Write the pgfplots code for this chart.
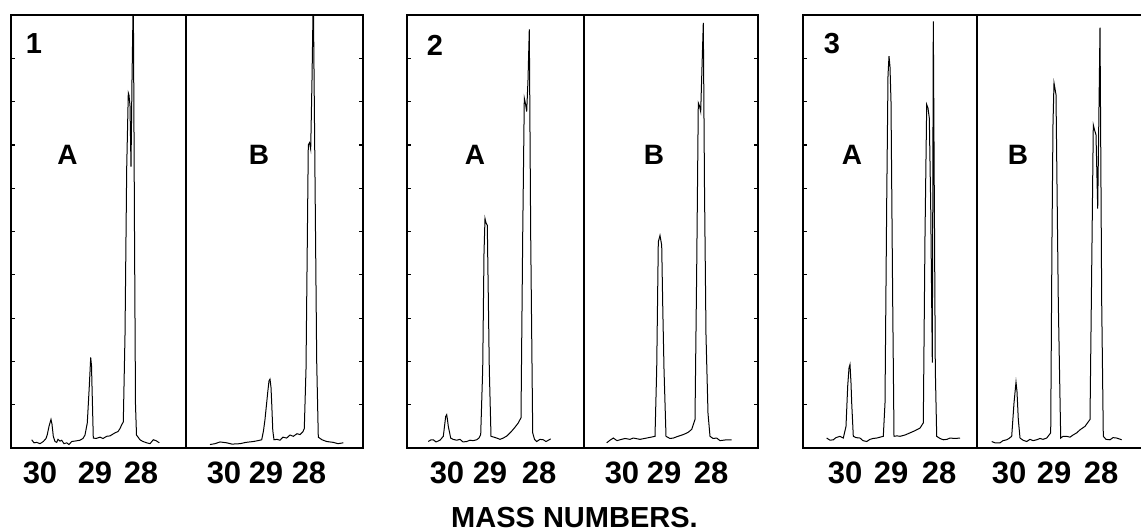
\documentclass[border=0pt]{standalone}
\usepackage{fontspec}
\setmainfont{Liberation Sans}
\usepackage{pgfplots}
\pgfplotsset{compat=1.18}
\pgfplotsset{
  grp/.style={
    scale only axis, height=216.5pt, anchor=north west,
    ymin=0, ymax=10, ytick={1,...,9}, yticklabels={},
    tick align=inside, major tick length=2pt,
    every tick/.style={black, line width=0.6pt},
    xtick style={draw=none},
    axis line style={line width=1pt},
    xticklabel style={anchor=north, inner sep=0pt, yshift=-6.5pt, font=\fontsize{15.5}{15.5}\selectfont},
    xticklabels={\textbf{30},\textbf{29},\textbf{28},\textbf{30},\textbf{29},\textbf{28}},
    clip=true,
  },
  trace/.style={black, line width=0.5pt, mark=none},
  divider/.style={black, line width=1pt, mark=none},
}
\tikzset{
  big/.style={font=\fontsize{14.5}{14.5}\selectfont\bfseries},
  mid/.style={font=\fontsize{14}{14}\selectfont\bfseries},
}
\begin{document}
\begin{tikzpicture}
\useasboundingbox (0,0) rectangle (570.5pt,-265.5pt);
\clip (0,0) rectangle (570.5pt,-265.5pt);
% ---------------- group 1
\begin{axis}[grp, at={(5.5pt,-7.5pt)}, width=176pt, xmin=11, xmax=363,
  xtick={40,95,141,224,266,309}]
\addplot[divider] coordinates {(186,0) (186,10)};
\addplot[trace] coordinates {(31.7,0.19) (34,0.12) (36.7,0.13) (40,0.1) (43.3,0.15) (46,0.22) (47.3,0.31) (49,0.5) (51,0.66) (52,0.55) (53.3,0.27) (55,0.15) (56.7,0.13) (58,0.2) (60,0.16) (61.7,0.18) (64,0.1) (66.7,0.12) (69,0.08) (71.7,0.15) (75,0.16) (80,0.18) (83,0.22) (85,0.3) (87.3,0.58) (89.3,1.43) (90.7,2.09) (91.5,1.9) (92,1.43) (93.3,0.23) (96,0.22) (100,0.25) (103,0.22) (106.7,0.27) (110,0.28) (115,0.35) (118,0.38) (120,0.45) (122,0.55) (123.3,0.6) (125,2.6) (126.7,6.46) (128.3,8.2) (129,8.15) (130,7.9) (131,6.5) (132,8.5) (133.3,10.5) (134.5,5) (135.5,1.0) (136.5,0.3) (140,0.19) (143,0.15) (146.7,0.12) (150,0.1) (153.3,0.19) (156,0.17) (159.3,0.12)};
\addplot[trace] coordinates {(210,0.08) (215,0.1) (220,0.14) (226.7,0.12) (232,0.09) (240,0.1) (246,0.13) (253.3,0.15) (258,0.17) (261.7,0.19) (263.5,0.4) (265,0.66) (267.7,1.28) (269,1.55) (270,1.59) (271,1.4) (271.7,1.04) (272.8,0.4) (274,0.19) (277,0.2) (280,0.18) (283,0.25) (286.7,0.23) (290,0.3) (293.3,0.27) (297,0.33) (300,0.31) (303,0.38) (304.3,0.45) (306,1.82) (308.3,7.0) (309.5,7.05) (310.7,6.9) (312,8.5) (313.3,10.5) (315.5,5) (316.7,2.0) (318.3,0.25) (322,0.19) (326.7,0.15) (330,0.14) (333.3,0.13) (338,0.1) (343.3,0.12)};
\node[big] at (axis cs:34,9.33) {1};
\node[mid] at (axis cs:67.5,6.77) {A};
\node[mid] at (axis cs:259,6.77) {B};
\end{axis}
% ---------------- group 2
\begin{axis}[grp, at={(203.5pt,-7.5pt)}, width=175.5pt, xmin=407, xmax=758,
  xtick={447,490,539,622,664,711},
  xlabel={\textbf{MASS NUMBERS.}},
  xlabel style={at={(axis description cs:0.5,0)}, anchor=center, yshift=-34.75pt, xshift=-4pt, font=\fontsize{14.5}{14.5}\selectfont}]
\addplot[divider] coordinates {(584,0) (584,10)};
\addplot[trace] coordinates {(428.3,0.15) (431,0.19) (433.3,0.19) (436,0.14) (440,0.18) (443.3,0.27) (444.5,0.5) (445.7,0.73) (446.7,0.77) (447.5,0.65) (448.3,0.5) (450.7,0.23) (453,0.2) (456.7,0.18) (460,0.2) (463,0.14) (466.7,0.15) (470,0.18) (473,0.17) (476.7,0.19) (479,0.23) (480.7,0.31) (482.7,1.82) (484,4.5) (485,5.3) (486,5.2) (487.3,5.14) (488.3,3.5) (489.3,1.82) (491,0.27) (494,0.25) (496.7,0.23) (500,0.2) (503.3,0.23) (507,0.28) (511.7,0.39) (515,0.48) (518.3,0.58) (521,0.7) (522.7,4.9) (524.3,8.08) (525.5,7.95) (526.7,7.77) (528,8.5) (529.3,9.67) (530.7,4.9) (532.7,0.35) (534.5,0.2) (536.7,0.15) (540,0.2) (543.3,0.19) (546,0.15) (550.7,0.21)};
\addplot[trace] coordinates {(606.7,0.12) (610,0.18) (613.3,0.23) (617,0.17) (620,0.19) (625,0.22) (630,0.2) (633.3,0.23) (640,0.2) (646.7,0.23) (651,0.25) (655,0.27) (656.7,1.82) (658.3,4.76) (660,4.91) (661.7,4.68) (662.8,3.2) (664,1.82) (666,0.27) (670,0.22) (673.3,0.23) (678,0.27) (683.3,0.31) (688,0.36) (691.7,0.43) (695,0.66) (696.7,4.14) (698.3,7.97) (699.5,7.9) (700.7,7.77) (702,8.8) (703.3,9.82) (704.5,6) (706,2.6) (708,0.8) (710,0.27) (713,0.22) (716.7,0.23) (720,0.17) (726.7,0.19) (731.7,0.19)};
\node[big] at (axis cs:435,9.31) {2};
\node[mid] at (axis cs:475,6.77) {A};
\node[mid] at (axis cs:654,6.77) {B};
\end{axis}
% ---------------- group 3
\begin{axis}[grp, at={(401.5pt,-7.5pt)}, width=174.5pt, xmin=803, xmax=1152,
  xtick={845,891,939,1009,1054,1101}]
\addplot[divider] coordinates {(977,0) (977,10)};
\addplot[trace] coordinates {(826.7,0.23) (830,0.18) (833.3,0.19) (836,0.24) (840,0.27) (843.3,0.23) (846,0.5) (847.7,1.43) (849,1.85) (850,1.93) (851,1.5) (851.7,1.04) (853.3,0.27) (856,0.24) (860,0.23) (863,0.17) (866.7,0.15) (870,0.2) (873,0.22) (876.7,0.23) (880,0.25) (883.3,0.27) (885,1.04) (886.7,5.68) (888,8.6) (889,9.05) (890,8.8) (891,8.0) (892.7,3.36) (894,0.27) (897,0.28) (900,0.27) (905,0.3) (910,0.35) (915,0.4) (920,0.46) (923.3,0.58) (925,4.91) (926.7,7.93) (928,7.85) (929.3,7.62) (930.7,5.6) (932.3,1.97) (933.3,9.85) (935.3,1.82) (936.7,0.27) (940,0.22) (943.3,0.19) (947,0.2) (950,0.23) (955,0.22) (960,0.23)};
\addplot[trace] coordinates {(991.7,0.15) (995,0.12) (1000,0.12) (1003,0.17) (1006.7,0.19) (1009,0.22) (1011.7,0.27) (1014,1.04) (1016,1.52) (1017,1.3) (1018.3,0.66) (1020,0.23) (1023,0.18) (1026.7,0.15) (1030,0.2) (1033,0.17) (1036.7,0.19) (1040,0.22) (1043,0.2) (1046.7,0.23) (1050.7,0.35) (1052,4.91) (1053,7.5) (1054,8.43) (1055,8.3) (1056,8.16) (1058.3,3.36) (1060.7,0.23) (1063,0.27) (1066.7,0.27) (1070,0.25) (1073,0.3) (1076.7,0.35) (1080,0.42) (1085,0.5) (1090,0.66) (1091.7,4.14) (1093.3,7.46) (1094.5,7.35) (1096,7.23) (1097.7,5.53) (1100,9.71) (1101.7,3.36) (1103.3,0.27) (1106,0.2) (1110,0.19) (1113,0.24) (1116.7,0.23) (1121.7,0.19)};
\node[big] at (axis cs:832,9.33) {3};
\node[mid] at (axis cs:852,6.77) {A};
\node[mid] at (axis cs:1018,6.77) {B};
\end{axis}
\end{tikzpicture}
\end{document}
